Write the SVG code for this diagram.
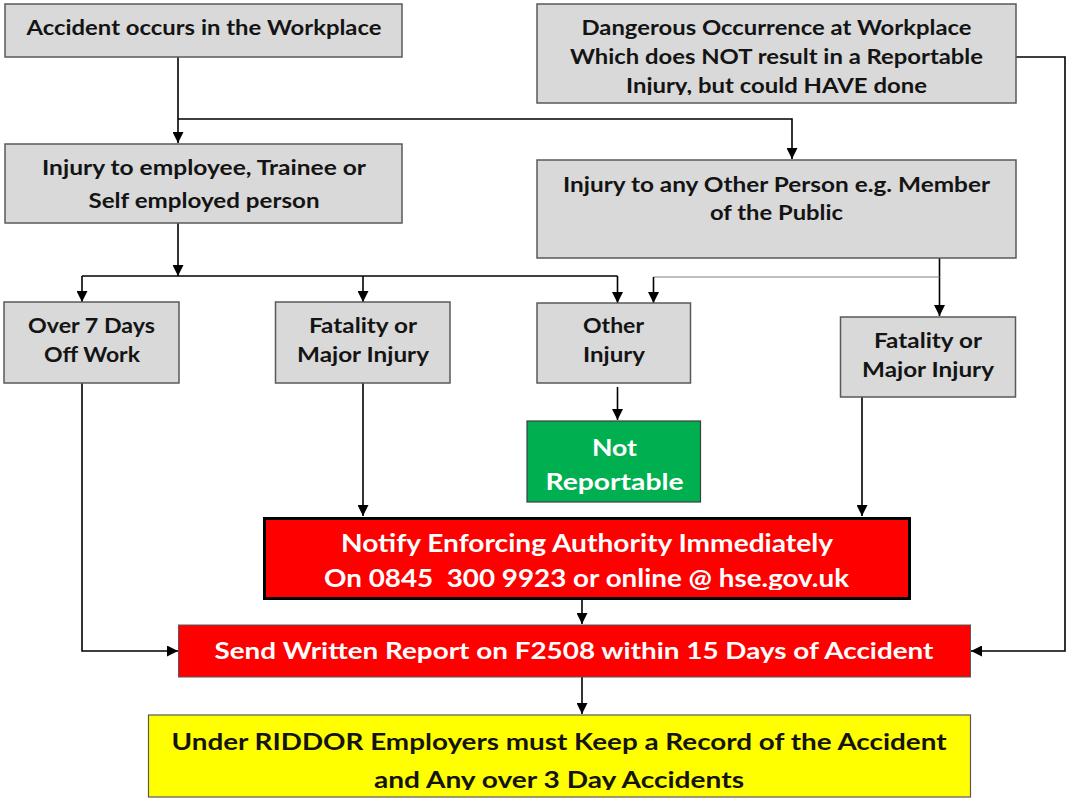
<svg xmlns="http://www.w3.org/2000/svg" width="1068" height="799" viewBox="0 0 1068 799">
<style>
.box{fill:#d9d9d9;stroke:#595959;stroke-width:1.5}
.t{font-family:Lato,"Liberation Sans",sans-serif;font-weight:bold;fill:#141414;text-anchor:middle}
.g{font-size:20px}
.w{fill:#ffffff}
.c{fill:none;stroke:#000;stroke-width:1.6}
.cg{fill:none;stroke:#808080;stroke-width:1.2}
</style>
<defs>
<marker id="ah" markerUnits="userSpaceOnUse" markerWidth="11" markerHeight="11" refX="10" refY="5" orient="auto" viewBox="0 0 10 10">
<path d="M0,0 L10,5 L0,10 z" fill="#000"/>
</marker>
<clipPath id="clipD"><rect x="537" y="4" width="480" height="91"/></clipPath>
<clipPath id="clipN"><rect x="263" y="517" width="648" height="73"/></clipPath>
<clipPath id="clipY"><rect x="148" y="715" width="823" height="75"/></clipPath>
</defs>
<rect width="1068" height="799" fill="#ffffff"/>

<g id="connectors">
<path class="c" d="M178,57 V143" marker-end="url(#ah)"/>
<path class="c" d="M178,119 H792 V159" marker-end="url(#ah)"/>
<path class="c" d="M178,223 V276" marker-end="url(#ah)"/>
<path class="c" d="M82,276 H617.5"/>
<path class="c" d="M82,276 V302" marker-end="url(#ah)"/>
<path class="c" d="M363,276 V302" marker-end="url(#ah)"/>
<path class="c" d="M617.5,276 V303" marker-end="url(#ah)"/>
<path class="c" d="M939.5,258 V316" marker-end="url(#ah)"/>
<path class="cg" d="M939.5,277 H653.5"/>
<path class="c" d="M653.5,277 V303" marker-end="url(#ah)"/>
<path class="c" d="M617.5,387 V420" marker-end="url(#ah)"/>
<path class="c" d="M82,383 V651 H178" marker-end="url(#ah)"/>
<path class="c" d="M363,383 V516" marker-end="url(#ah)"/>
<path class="c" d="M862,397 V516" marker-end="url(#ah)"/>
<path class="c" d="M582,600 V624" marker-end="url(#ah)"/>
<path class="c" d="M582,677 V714" marker-end="url(#ah)"/>
<path class="c" d="M1016,57 H1065 V651 H971" marker-end="url(#ah)"/>
</g>

<g id="accident">
<rect class="box" x="5" y="4" width="397" height="53"/>
<text class="t g" x="204" y="35" textLength="355" lengthAdjust="spacingAndGlyphs">Accident occurs in the Workplace</text>
</g>

<g id="dangerous">
<rect class="box" x="537" y="4" width="479" height="99"/>
<g clip-path="url(#clipD)">
<text class="t g" x="776.5" y="35" textLength="390" lengthAdjust="spacingAndGlyphs">Dangerous Occurrence at Workplace</text>
<text class="t g" x="776.5" y="64" textLength="413" lengthAdjust="spacingAndGlyphs">Which does NOT result in a Reportable</text>
<text class="t g" x="776.5" y="93" textLength="301" lengthAdjust="spacingAndGlyphs">Injury, but could HAVE done</text>
</g>
</g>

<g id="employee">
<rect class="box" x="5" y="144" width="397" height="79"/>
<text class="t g" x="204" y="175" textLength="324" lengthAdjust="spacingAndGlyphs">Injury to employee, Trainee or</text>
<text class="t g" x="204" y="208" textLength="231" lengthAdjust="spacingAndGlyphs">Self employed person</text>
</g>

<g id="otherperson">
<rect class="box" x="537" y="160" width="479" height="98"/>
<text class="t g" x="776.5" y="192" textLength="427" lengthAdjust="spacingAndGlyphs">Injury to any Other Person e.g. Member</text>
<text class="t g" x="776.5" y="220" textLength="133" lengthAdjust="spacingAndGlyphs">of the Public</text>
</g>

<g id="over7">
<rect class="box" x="4" y="302" width="175" height="81"/>
<text class="t g" x="91.5" y="333" textLength="127" lengthAdjust="spacingAndGlyphs">Over 7 Days</text>
<text class="t g" x="92" y="362" textLength="96" lengthAdjust="spacingAndGlyphs">Off Work</text>
</g>

<g id="fatality1">
<rect class="box" x="275.5" y="302" width="174.5" height="81"/>
<text class="t g" x="363" y="333" textLength="108" lengthAdjust="spacingAndGlyphs">Fatality or</text>
<text class="t g" x="363" y="362" textLength="132" lengthAdjust="spacingAndGlyphs">Major Injury</text>
</g>

<g id="otherinjury">
<rect class="box" x="537" y="303" width="153.5" height="80"/>
<text class="t g" x="613.5" y="333" textLength="61" lengthAdjust="spacingAndGlyphs">Other</text>
<text class="t g" x="614" y="362" textLength="62" lengthAdjust="spacingAndGlyphs">Injury</text>
</g>

<g id="fatality2">
<rect class="box" x="840.5" y="317" width="175" height="80"/>
<text class="t g" x="928" y="348" textLength="108" lengthAdjust="spacingAndGlyphs">Fatality or</text>
<text class="t g" x="928" y="377" textLength="132" lengthAdjust="spacingAndGlyphs">Major Injury</text>
</g>

<g id="notreportable">
<rect x="527" y="421" width="173.5" height="81" fill="#00b050" stroke="#3c3c3c" stroke-width="1.2"/>
<text class="t w" style="font-size:23px" x="614.5" y="456" textLength="45" lengthAdjust="spacingAndGlyphs">Not</text>
<text class="t w" style="font-size:23px" x="614.5" y="490" textLength="138" lengthAdjust="spacingAndGlyphs">Reportable</text>
</g>

<g id="notify">
<rect x="264.5" y="518.5" width="645" height="80" fill="#ff0000" stroke="#000" stroke-width="3"/>
<g clip-path="url(#clipN)">
<text class="t w" style="font-size:24px" x="587" y="552" textLength="492" lengthAdjust="spacingAndGlyphs">Notify Enforcing Authority Immediately</text>
<text class="t w" style="font-size:24px" x="586.5" y="587" textLength="525" lengthAdjust="spacingAndGlyphs">On 0845&#160; 300 9923 or online @ hse.gov.uk</text>
</g>
</g>

<g id="send">
<rect x="178.5" y="625" width="792" height="52" fill="#ff0000" stroke="#595959" stroke-width="1"/>
<text class="t w" style="font-size:22px" x="574" y="659" textLength="719" lengthAdjust="spacingAndGlyphs">Send Written Report on F2508 within 15 Days of Accident</text>
</g>

<g id="record">
<rect x="148.5" y="715" width="822" height="82" fill="#ffff00" stroke="#595959" stroke-width="1.2"/>
<g clip-path="url(#clipY)">
<text class="t" style="font-size:23px" x="559" y="750" textLength="775" lengthAdjust="spacingAndGlyphs">Under RIDDOR Employers must Keep a Record of the Accident</text>
<text class="t" style="font-size:23px" x="559" y="788" textLength="370" lengthAdjust="spacingAndGlyphs">and Any over 3 Day Accidents</text>
</g>
</g>
</svg>
